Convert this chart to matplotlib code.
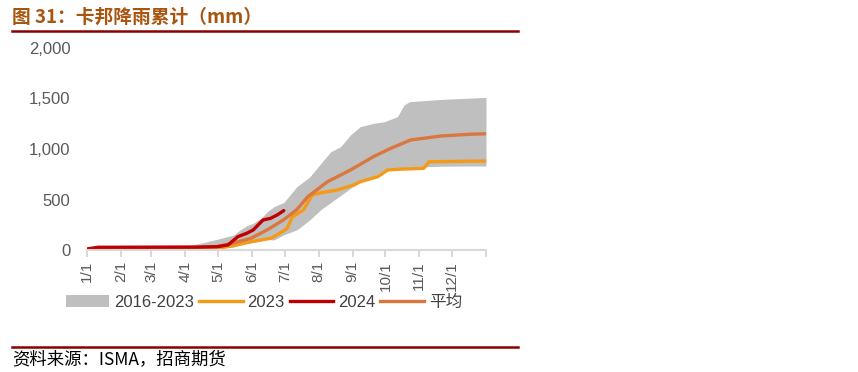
import matplotlib

matplotlib.use("Agg")
import matplotlib.pyplot as plt
from matplotlib.lines import Line2D
from matplotlib.patches import Patch

plt.rcParams["font.family"] = ["Liberation Sans", "Noto Sans CJK SC", "DejaVu Sans"]

# day of year (0 = 1/1, 365 = 12/31)
month_ticks = [0, 31, 59, 90, 120, 151, 181, 212, 243, 273, 304, 334, 365]
month_labels = ["1/1", "2/1", "3/1", "4/1", "5/1", "6/1", "7/1", "8/1",
                "9/1", "10/1", "11/1", "12/1", ""]

# 2016-2023 range
band_days = [0, 10, 60, 90, 104, 119, 134, 140, 146, 152, 159, 165, 171, 180,
             192, 204, 214, 223, 232, 241, 250, 262, 272, 284, 290, 295, 324, 365]
band_high = [10, 25, 30, 40, 66, 106, 148, 198, 240, 264, 314, 379, 429, 470,
             627, 726, 858, 973, 1023, 1139, 1221, 1254, 1270, 1320, 1436, 1468, 1491, 1511]
band_low = [0, 5, 8, 10, 10, 12, 30, 50, 65, 75, 90, 105, 99, 150,
            200, 300, 400, 470, 540, 610, 676, 726, 792, 805, 812, 818, 830, 832]

days_2023 = [0, 10, 100, 119, 135, 150, 168, 171, 180, 183, 188, 198, 206, 211,
             229, 244, 250, 266, 275, 284, 308, 313, 365]
rain_2023 = [5, 15, 15, 17, 45, 82, 116, 132, 190, 215, 330, 396, 545, 561,
             594, 644, 676, 726, 792, 799, 809, 874, 881]

days_2024 = [0, 10, 100, 119, 129, 138, 146, 152, 161, 168, 174, 180]
rain_2024 = [10, 27, 28, 33, 50, 132, 165, 198, 297, 314, 347, 390]

days_avg = [0, 10, 100, 119, 134, 150, 165, 180, 192, 202, 220, 241,
            262, 278, 296, 324, 354, 365]
rain_avg = [5, 22, 28, 33, 70, 116, 200, 300, 400, 528, 676, 792,
            924, 1007, 1089, 1129, 1148, 1150]

c_band = "#BFBFBF"
c_2023 = "#F59A17"
c_2024 = "#C00000"
c_avg = "#D9773F"

fig = plt.figure(figsize=(8.58, 3.72), dpi=100)
ax = fig.add_axes([87 / 858, 122 / 372, 399 / 858, 202 / 372])

ax.fill_between(band_days, band_low, band_high, color=c_band, linewidth=0)
ax.plot(days_2023, rain_2023, color=c_2023, linewidth=2.4, solid_capstyle="round")
ax.plot(days_avg, rain_avg, color=c_avg, linewidth=2.4, solid_capstyle="round")
ax.plot(days_2024, rain_2024, color=c_2024, linewidth=2.4, solid_capstyle="round")

ax.set_xlim(0, 365)
ax.set_ylim(0, 2000)
ax.set_yticks([0, 500, 1000, 1500, 2000])
ax.set_yticklabels(["0", "500", "1,000", "1,500", "2,000"])
ax.set_xticks(month_ticks)
ax.set_xticklabels(month_labels, rotation=90)
for side in ("top", "right", "left"):
    ax.spines[side].set_visible(False)
ax.spines["bottom"].set_color("#D9D9D9")
ax.spines["bottom"].set_linewidth(1.5)
ax.tick_params(axis="y", length=0, pad=12, labelsize=12, labelcolor="#595959")
ax.tick_params(axis="x", length=5, width=1.5, color="#D9D9D9", pad=3,
               labelsize=11, labelcolor="#595959")

handles = [
    Patch(facecolor=c_band, edgecolor="none"),
    Line2D([], [], color=c_2023, linewidth=2.4),
    Line2D([], [], color=c_2024, linewidth=2.4),
    Line2D([], [], color=c_avg, linewidth=2.4),
]
fig.legend(handles, ["2016-2023", "2023", "2024", "平均"],
           loc="center", bbox_to_anchor=(264 / 858, 1 - 302 / 372), ncol=4,
           frameon=False, fontsize=12, handlelength=2.6, handletextpad=0.3,
           columnspacing=0.3, labelcolor="#404040")

fig.text(12 / 858, 1 - 17 / 372, "图 31：卡邦降雨累计（mm）", fontsize=13.5,
         fontweight="bold", color="#A8550F", va="center", ha="left",
         family=["Noto Sans CJK SC", "DejaVu Sans"])
fig.add_artist(Line2D([12 / 858, 518 / 858], [1 - 31 / 372, 1 - 31 / 372],
                      color="#8B0000", linewidth=1.8))
fig.add_artist(Line2D([12 / 858, 518 / 858], [1 - 347 / 372, 1 - 347 / 372],
                      color="#8B0000", linewidth=1.8))
fig.text(12 / 858, 1 - 359 / 372, "资料来源：ISMA，招商期货", fontsize=12.5,
         color="#000000", va="center", ha="left",
         family=["Noto Sans CJK SC", "DejaVu Sans"])

fig.savefig("out.png", dpi=100)
